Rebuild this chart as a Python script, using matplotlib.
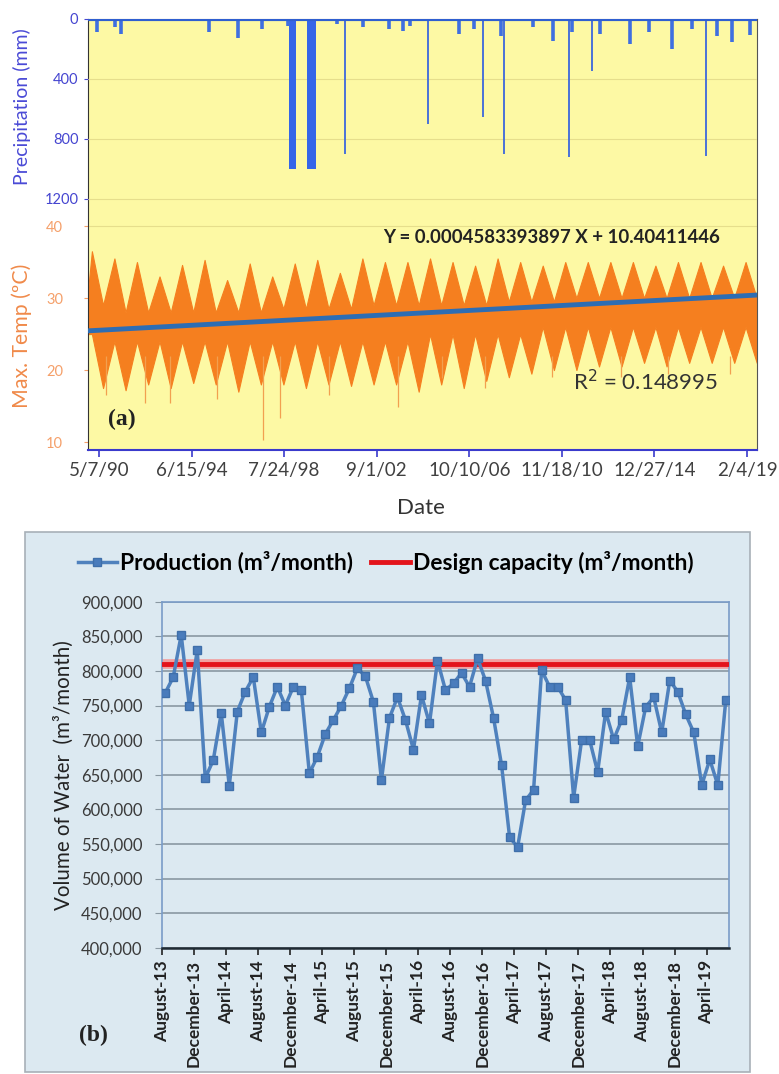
import matplotlib
matplotlib.use("Agg")
import matplotlib.pyplot as plt
import matplotlib.dates as mdates
import numpy as np
import datetime as dt
from matplotlib.patches import Rectangle

plt.rcParams['font.family'] = ['Lato', 'DejaVu Sans']

# ---------------- panel (a) data ----------------
axis_start = "1989-11-10"
axis_end = "2019-07-16"
date_ticks = ["1990-05-07", "1994-06-15", "1998-07-24", "2002-09-01",
              "2006-10-10", "2010-11-18", "2014-12-27", "2019-02-04"]
date_tick_labels = ["5/7/90", "6/15/94", "7/24/98", "9/1/02",
                    "10/10/06", "11/18/10", "12/27/14", "2/4/19"]

# summer peaks (January) and winter troughs (July), one per year
temp_years = list(range(1990, 2020))
peak_hi = [36.5, 35.5, 35, 33, 34.6, 35.3, 32.5, 34.8, 33, 34.8, 35.3, 33.5, 35.5, 35, 35,
           35.5, 35, 34.5, 35.5, 35, 34.5, 35, 35, 35, 35, 34.5, 35, 35, 34.5, 35]
peak_lo = [25, 24, 24, 24, 24, 24, 24, 24, 24, 24, 24, 24, 24, 24, 24,
           25, 25, 25, 25, 25, 26, 26, 26, 26, 26, 26, 26, 26, 26, 26]
trough_hi = [29, 28, 28, 28, 28, 28, 28, 28, 28.5, 28.5, 28.5, 28.5, 29, 29, 29,
             29, 29, 29, 29.5, 29.5, 29.5, 30, 30, 30, 30, 30, 30, 30, 30, 30]
trough_lo = [17.5, 17.2, 18, 17.5, 18.2, 18, 17, 18, 18, 17.5, 18, 17.8, 18, 18, 17,
             18, 17.5, 18.5, 19, 19.5, 20, 20, 20.5, 20.5, 21, 20.5, 21, 21, 21, 21]

# single day cold spikes
dip_dates = ["1997-08-16", "1998-05-19", "1992-05-22", "1993-07-01", "2003-08-11",
             "2005-07-25", "2010-06-10", "2018-05-06", "1990-09-01", "1995-08-01",
             "2000-07-15", "2007-06-20", "2013-07-01", "2015-08-10"]
dip_vals = [10.3, 13.3, 15.4, 15.4, 14.9, 18.9, 19.0, 19.5, 16.5, 16.0,
            16.5, 17.5, 19.0, 19.5]

trend_slope = 0.0004583393897
trend_intercept = 10.40411446

# precipitation: large single day events, tufts and two long blocks
rain_dates = ["2001-04-04", "2004-12-09", "2007-05-18", "2008-04-22",
              "2011-03-11", "2012-03-16", "2017-04-08"]
rain_mm = [904, 703, 656, 904, 924, 348, 917]
tuft_dates = ["1990-04-01", "1991-01-20", "1991-05-01", "1995-04-01", "1996-07-01",
              "1997-08-01", "1998-10-01", "2000-12-01", "2002-01-15", "2003-03-15",
              "2003-11-01", "2004-03-01", "2006-05-01", "2007-01-01", "2008-03-01",
              "2009-08-01", "2010-07-01", "2011-05-01", "2012-08-01", "2013-12-01",
              "2014-10-01", "2015-10-01", "2016-09-01", "2017-10-01", "2018-06-01",
              "2019-04-01"]
tuft_mm = [87, 55, 100, 87, 130, 67, 47, 33, 55, 67, 80, 47, 100, 67, 114, 55,
           147, 87, 100, 167, 87, 200, 67, 114, 154, 110]
block_start = ["1998-10-05", "1999-08-05"]
block_end = ["1999-01-26", "1999-12-29"]
block_mm = [1004, 1004]

# ---------------- panel (b) data ----------------
production = [768, 791, 852, 750, 830, 645, 671, 739, 634, 741, 770, 791,
              711, 748, 777, 750, 777, 772, 652, 676, 709, 729, 750, 775,
              804, 792, 755, 642, 732, 762, 729, 686, 765, 724, 815, 772,
              782, 797, 777, 818, 786, 732, 664, 560, 545, 613, 628, 801,
              777, 777, 758, 617, 700, 700, 654, 741, 701, 729, 791, 691,
              748, 762, 711, 786, 770, 737, 711, 635, 672, 635, 758]
production = [v * 1000 for v in production]
design_capacity = 810000
month_tick_labels = ["August-13", "December-13", "April-14", "August-14", "December-14",
                     "April-15", "August-15", "December-15", "April-16", "August-16",
                     "December-16", "April-17", "August-17", "December-17", "April-18",
                     "August-18", "December-18", "April-19"]


def d(s):
    return mdates.date2num(dt.datetime.strptime(s, "%Y-%m-%d"))


fig = plt.figure(figsize=(7.79, 10.74), dpi=100)

# panel (b) background box, drawn first
fig.patches.append(Rectangle((25 / 779, 1 - 1072 / 1074), 725 / 779, 540 / 1074,
                             transform=fig.transFigure, facecolor="#dce9f1",
                             edgecolor="#a8b0b8", lw=1.2, zorder=-5))

# ======== panel (a) ========
ax = fig.add_axes([88 / 779, 1 - 450 / 1074, 669 / 779, 431 / 1074])
ax.set_facecolor("#fdf9a4")

env_x = [d(axis_start)]
env_hi = [31]
env_lo = [25]
for i, y in enumerate(temp_years):
    env_x += [d(f"{y}-01-12"), d(f"{y}-07-12")]
    env_hi += [peak_hi[i], trough_hi[i]]
    env_lo += [peak_lo[i], trough_lo[i]]
ax.fill_between(env_x, env_lo, env_hi, color="#f57f1f", lw=0.8, zorder=2)
ax.vlines([d(s) for s in dip_dates], 22, dip_vals, color="#f2a050", lw=0.9, zorder=2)

x0, x1 = d(axis_start), d(axis_end)
excel0 = 25569  # matplotlib day 0 -> excel serial
ax.plot([x0, x1], [trend_slope * (x0 + excel0) + trend_intercept,
                   trend_slope * (x1 + excel0) + trend_intercept],
        color="#2d6db3", lw=3.5, zorder=3)

ax.set_xlim(x0, x1)
ax.set_ylim(8.9, 68.75)
ax.set_yticks([10, 20, 30, 40])
ax.tick_params(axis="y", colors="#f5a06a", labelsize=10.5, length=3, pad=15)
ax.set_xticks([d(s) for s in date_ticks])
ax.set_xticklabels(date_tick_labels)
ax.tick_params(axis="x", labelsize=13.5, colors="#3a3acc", labelcolor="#404040",
               length=5, width=1.2, pad=4)
for s in ["top", "right"]:
    ax.spines[s].set_color("#555555")
ax.spines["left"].set_color("#333333")
ax.spines["bottom"].set_color("#3a3acc")
ax.spines["bottom"].set_linewidth(1.5)
ax.axhline(40, color="#e6de8c", lw=0.8, zorder=1)

axp = ax.twinx()
axp.set_ylim(2880, 0)
axp.yaxis.set_ticks_position("left")
axp.set_yticks([0, 400, 800, 1200])
axp.tick_params(axis="y", colors="#4545d0", labelsize=10.5, length=3, pad=4)
for s in axp.spines.values():
    s.set_visible(False)
for g in [400, 800, 1200]:
    axp.axhline(g, color="#e6de8c", lw=0.8, zorder=0)
axp.vlines([d(s) for s in tuft_dates], 0, tuft_mm, color="#3f6fe0", lw=2.6)
axp.vlines([d(s) for s in rain_dates], 0, rain_mm, color="#4a72d8", lw=1.4)
for bs, be, bm in zip(block_start, block_end, block_mm):
    axp.bar(d(bs), bm, width=d(be) - d(bs), align="edge", color="#3566e8", lw=0)
axp.axhline(0, color="#2f5fd0", lw=3)

ax.text(0.051, 0.07, "(a)", transform=ax.transAxes, fontsize=17, ha="center",
        va="center", fontweight="bold", family="Liberation Serif", color="#222222")
ax.text(0.945, 0.494, "Y = 0.0004583393897 X + 10.40411446", transform=ax.transAxes,
        fontsize=13.4, fontweight="bold", ha="right", va="center", color="#222222")
ax.text(0.942, 0.158, "R$^2$ = 0.148995", transform=ax.transAxes,
        fontsize=16, ha="right", va="center", color="#333333")

fig.text(22 / 779, 1 - 107 / 1074, "Precipitation (mm)", rotation=90,
         ha="center", va="center", fontsize=14, color="#4a4ad6")
fig.text(22 / 779, 1 - 336 / 1074, "Max. Temp (ºC)", rotation=90,
         ha="center", va="center", fontsize=15.3, color="#f08a4a")
fig.text(421 / 779, 1 - 508 / 1074, "Date", ha="center", va="center",
         fontsize=16, color="#333333")

# ======== panel (b) ========
bx = fig.add_axes([162 / 779, 1 - 947.7 / 1074, 567 / 779, 346 / 1074])
bx.set_facecolor("#dce9f1")
xs = np.arange(len(production))
bx.axhline(design_capacity, color="#f2a0a0", lw=7, zorder=2)
bx.axhline(design_capacity, color="#e3141c", lw=3.5, zorder=3,
           label="Design capacity (m³/month)")
bx.plot(xs, production, color="#4f81bd", lw=2.5, marker="s", markersize=5.5,
        markerfacecolor="#4a7cbc", markeredgecolor="#3f6faa", zorder=4,
        label="Production (m³/month)")
bx.set_xlim(-0.4, 70.4)
bx.set_ylim(400000, 900000)
bx.set_yticks(np.arange(400000, 900001, 50000))
bx.yaxis.set_major_formatter(matplotlib.ticker.FuncFormatter(lambda v, p: f"{int(v):,}"))
bx.grid(axis="y", color="#8a98a2", lw=1.2)
bx.set_axisbelow(True)
bx.tick_params(axis="y", labelsize=12, colors="#8a98a2", labelcolor="#3a3a3a",
               length=5, pad=9)
bx.set_xticks(np.arange(0, 71, 4) - 0.4)
bx.set_xticklabels(month_tick_labels, rotation=90, fontweight="bold")
bx.tick_params(axis="x", labelsize=12.5, colors="#222222", length=5, width=1.2, pad=4)
for s in ["top", "right", "left"]:
    bx.spines[s].set_color("#7a9cc8")
    bx.spines[s].set_linewidth(1.2)
bx.spines["bottom"].set_color("#1f2a33")
bx.spines["bottom"].set_linewidth(1.8)

bx.set_ylabel("Volume of Water  (m³/month)", fontsize=14.8, color="#222222")
bx.yaxis.set_label_coords(-0.155, 0.5)

h, l = bx.get_legend_handles_labels()
fig.legend(h[::-1], l[::-1], loc="center", ncol=2, frameon=False,
           bbox_to_anchor=(386 / 779, 1 - 562 / 1074),
           prop={"weight": "bold", "size": 16.4}, handlelength=1.7,
           columnspacing=0.8, handletextpad=0.15)

fig.text(93 / 779, 1 - 1035 / 1074, "(b)", ha="center", va="center", fontsize=17,
         fontweight="bold", family="Liberation Serif", color="#222222")

fig.savefig("out.png", dpi=100)
